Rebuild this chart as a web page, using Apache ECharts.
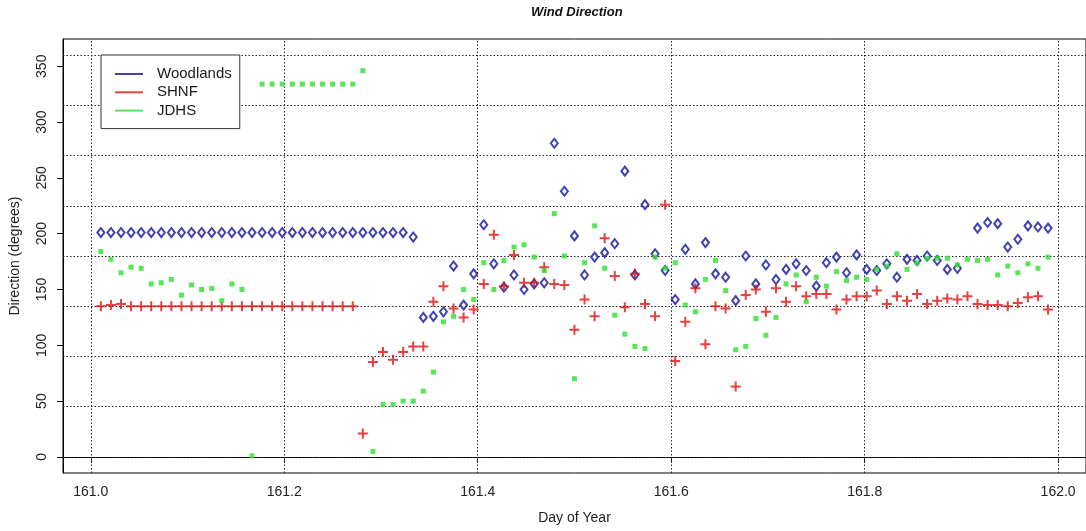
<!DOCTYPE html>
<html>
<head>
<meta charset="utf-8">
<title>Wind Direction</title>
<script src="https://cdn.jsdelivr.net/npm/echarts@6/dist/echarts.min.js"></script>
<style>
  html, body { margin: 0; padding: 0; background: #fff; }
  #chart { width: 1086px; height: 531px; }
</style>
</head>
<body>
<div id="chart"></div>
<script>
// Wind direction (degrees) at three stations, sampled every 15 minutes on day 161.
const startDay = 161;
const samplesPerDay = 96;   // 15-minute records

const woodlands = [
  201, 201, 201, 201, 201, 201, 201, 201, 201, 201,
  201, 201, 201, 201, 201, 201, 201, 201, 201, 201,
  201, 201, 201, 201, 201, 201, 201, 201, 201, 201,
  201, 197, 125, 126, 130, 171, 136, 164, 208, 173,
  152, 163, 150, 155, 156, 281, 238, 198, 163, 179,
  183, 191, 256, 163, 226, 182, 167, 141, 186, 155,
  192, 164, 161, 140, 180, 155, 172, 159, 168, 173,
  167, 153, 174, 179, 165, 181, 168, 167, 173, 161,
  177, 176, 180, 176, 168, 169, null, 205, 210, 209,
  188, 195, 207, 206, 205
];

const shnf = [
  135, 136, 137, 135, 135, 135, 135, 135, 135, 135,
  135, 135, 135, 135, 135, 135, 135, 135, 135, 135,
  135, 135, 135, 135, 135, 135, 21, 85, 94, 87,
  94, 99, 99, 139, 153, 133, 125, 132, 155, 199,
  153, 181, 156, 156, 170, 155, 154, 114, 141, 126,
  196, 162, 134, 164, 137, 126, 226, 86, 121, 151,
  101, 135, 133, 63, 145, 150, 130, 151, 139, 153,
  144, 146, 146, 132, 141, 144, 144, 149, 137, 144,
  140, 146, 137, 140, 142, 141, 144, 137, 136, 136,
  135, 138, 143, 144, 132
];

const jdhs = [
  184, 177, 165, 170, 169, 155, 156, 159, 145, 154,
  150, 151, 140, 155, 150, 1, 334, 334, 334, 334,
  334, 334, 334, 334, 334, 334, 346, 5, 47, 47,
  50, 50, 59, 76, 121, 126, 150, 141, 174, 150,
  176, 188, 190, 179, 167, 218, 180, 70, 174, 207,
  169, 127, 110, 99, 97, 179, 169, 174, 136, 130,
  159, 176, 149, 96, 99, 124, 109, 125, 155, 163,
  139, 161, 153, 166, 158, 161, 159, 168, 171, 182,
  168, 174, 178, 178, 178, 172, 177, 176, 177, 163,
  171, 165, 173, 169, 179
];

const xTicks = [161.0, 161.2, 161.4, 161.6, 161.8, 162.0];
const yTicks = [0, 50, 100, 150, 200, 250, 300, 350];
const xGridLines = [161.0, 161.2, 161.4, 161.6, 161.8, 162.0];
const yGridLines = [0, 45, 90, 135, 180, 225, 270, 315, 360];

const seriesNames = ['Woodlands', 'SHNF', 'JDHS'];
const colors = { Woodlands: '#12129c', SHNF: '#e01010', JDHS: '#2ee02e' };

const FONT = '"Liberation Sans", Arial, sans-serif';
const PLUS = 'path://M4,0H6V4H10V6H6V10H4V6H0V4H4Z';

// pair each reading with its timestamp (day of year)
function toPoints(values) {
  return values.map((v, i) => [startDay + (i + 1) / samplesPerDay, v]);
}

const chart = echarts.init(document.getElementById('chart'), null, { renderer: 'canvas' });

chart.setOption({
  animation: false,
  backgroundColor: '#fff',
  textStyle: { fontFamily: FONT },
  title: {
    text: 'Wind Direction',
    left: 531,
    top: 6,
    padding: 0,
    textStyle: { fontFamily: FONT, fontSize: 13, fontWeight: 'bold', fontStyle: 'italic', color: '#111' }
  },
  legend: {
    orient: 'vertical',
    left: 101,
    top: 55,
    padding: [11, 8, 10, 14],
    itemWidth: 28,
    itemHeight: 2,
    itemGap: 2.3,
    icon: 'rect',
    borderColor: '#333',
    borderWidth: 1,
    borderRadius: 0,
    backgroundColor: '#fff',
    selectedMode: false,
    textStyle: { fontFamily: FONT, fontSize: 15, color: '#1a1a1a', lineHeight: 16, padding: [0, 0, 0, 9] },
    data: seriesNames.map(n => ({ name: n, itemStyle: { color: colors[n], borderWidth: 0 } }))
  },
  grid: {
    left: 63,
    right: -5,
    top: 39,
    bottom: 58,
    show: true,
    borderColor: '#000',
    borderWidth: 1,
    backgroundColor: 'transparent'
  },
  xAxis: {
    type: 'value',
    min: 160.9713,
    max: 162.0288,
    axisLine: { show: true, lineStyle: { color: '#000', width: 1 } },
    axisTick: { show: true, length: 6, customValues: xTicks, lineStyle: { color: '#000' } },
    axisLabel: {
      customValues: xTicks,
      formatter: v => v.toFixed(1),
      fontFamily: FONT, fontSize: 14, color: '#222', margin: 12
    },
    splitLine: { show: false },
    name: 'Day of Year',
    nameLocation: 'middle',
    nameGap: 38,
    nameTextStyle: { fontFamily: FONT, fontSize: 14, color: '#222' }
  },
  yAxis: {
    type: 'value',
    min: -14.4,
    max: 374.4,
    axisLine: { show: true, lineStyle: { color: '#000', width: 1 } },
    axisTick: { show: true, length: 6, customValues: yTicks, lineStyle: { color: '#000' } },
    axisLabel: {
      customValues: yTicks,
      rotate: 90,
      fontFamily: FONT, fontSize: 14, color: '#222', margin: 14
    },
    splitLine: { show: false },
    name: 'Direction (degrees)',
    nameLocation: 'middle',
    nameRotate: 90,
    nameGap: 41,
    nameTextStyle: { fontFamily: FONT, fontSize: 14, color: '#222' }
  },
  series: [
    {
      // dotted reference grid
      name: 'gridlines',
      type: 'scatter',
      data: [],
      silent: true,
      markLine: {
        silent: true,
        z: 1,
        symbol: ['none', 'none'],
        label: { show: false },
        lineStyle: { color: '#222', width: 1, type: [1.5, 2] },
        data: [
          ...yGridLines.map(v => ({ yAxis: v })),
          ...xGridLines.map(v => ({ xAxis: v }))
        ]
      }
    },
    {
      name: 'Woodlands',
      type: 'scatter',
      symbol: 'diamond',
      symbolSize: [7, 9],
      itemStyle: { color: '#fff', borderColor: colors.Woodlands, borderWidth: 2 },
      data: toPoints(woodlands)
    },
    {
      name: 'SHNF',
      type: 'scatter',
      symbol: PLUS,
      symbolSize: 10,
      itemStyle: { color: colors.SHNF },
      data: toPoints(shnf)
    },
    {
      name: 'JDHS',
      type: 'scatter',
      symbol: 'rect',
      symbolSize: 5,
      itemStyle: { color: colors.JDHS },
      data: toPoints(jdhs)
    }
  ]
});
</script>
</body>
</html>
